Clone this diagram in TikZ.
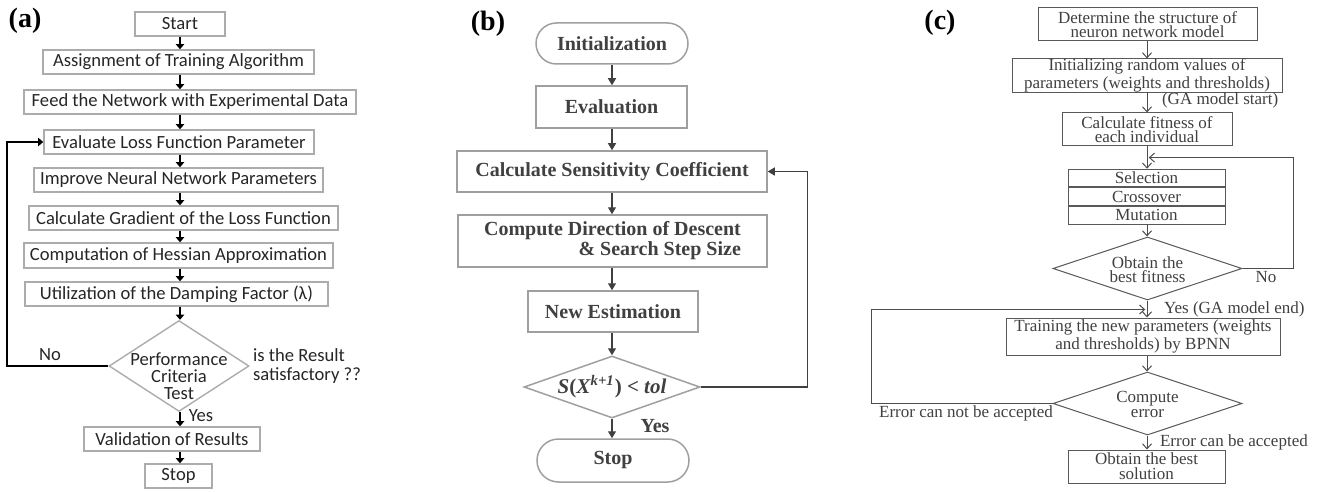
\documentclass[tikz,border=0pt]{standalone}
\usepackage{fontspec}
\setmainfont{Liberation Serif}
\newfontfamily\calfont{Carlito}
\usetikzlibrary{positioning,calc,shapes.geometric,shapes.misc,arrows.meta}

\tikzset{
  tag/.style={font=\bfseries\fontsize{14}{16}\selectfont},
  % panel (a)
  boxa/.style={draw=gray!65, line width=0.7pt, inner sep=0pt, minimum height=12pt,
    text=black!85, font=\calfont\fontsize{9.3}{11}\selectfont},
  txta/.style={text=black!85, font=\calfont\fontsize{9.3}{8.6}\selectfont},
  arra/.style={-{Triangle[length=2.6pt,width=4.2pt]}, line width=0.9pt},
  % panel (b)
  boxb/.style={draw=gray!75, line width=0.75pt, inner sep=0pt, align=right,
    text=black!75, font=\bfseries\fontsize{10}{8.5}\selectfont},
  txtb/.style={text=black!75, font=\bfseries\fontsize{10}{12}\selectfont},
  arrb/.style={-{Triangle[length=3.5pt,width=4pt]}, line width=0.6pt, draw=black!75},
  % panel (c)
  boxc/.style={draw=black!65, line width=0.5pt, inner sep=0pt, align=center,
    text=black!75, font=\fontsize{8.5}{7.4}\selectfont},
  txtc/.style={text=black!75, align=center, font=\fontsize{8.5}{7.2}\selectfont},
  arrc/.style={-{Straight Barb[length=2.5pt,width=4.5pt]}, line width=0.5pt, draw=black!70}
}

\begin{document}
\begin{tikzpicture}[x=0.5pt,y=-0.5pt]
\useasboundingbox (0,0) rectangle (1317,492);

% (a) Levenberg--Marquardt steps
\node[tag] (la) at (25,21) {(a)};
\node[boxa, minimum width=45pt] (a0) at (180,24) {Start};
\node[boxa, minimum width=135.5pt] (a1) at (178.5,62) {Assignment of Training Algorithm};
\node[boxa, minimum width=166pt] (a2) at (190,102) {Feed the Network with Experimental Data};
\node[boxa, minimum width=135pt] (a3) at (179,142) {Evaluate Loss Function Parameter};
\node[boxa, minimum width=144.5pt] (a4) at (178.5,180) {Improve Neural Network Parameters};
\node[boxa, minimum width=154.5pt] (a5) at (183.5,218) {Calculate Gradient of the Loss Function};
\node[boxa, minimum width=154.5pt, minimum height=12.5pt] (a6) at (178.5,255.5) {Computation of Hessian Approximation};
\node[boxa, minimum width=151.5pt] (a7) at (176.5,294) {Utilization of the Damping Factor (λ)};
\node[diamond, draw=gray!65, line width=0.7pt, inner sep=0pt, minimum width=70pt, minimum height=45.5pt,
  label={[txta, align=center, yshift=-5pt]center:{Performance\\Criteria\\Test}}] (a8) at (179,366) {};
\node[boxa, minimum width=88pt] (a9) at (172,439) {Validation of Results};
\node[boxa, minimum width=33.5pt] (a10) at (178.5,476) {Stop};
\foreach \u/\v in {a0/a1,a1/a2,a2/a3,a3/a4,a4/a5,a5/a6,a6/a7,a7/a8,a8/a9,a9/a10}
  \draw[arra] (a0.south |- \u.south) -- (a0.south |- \v.north);
\draw[arra] (a8.west) -- ++(-101,0) |- (a3.west);
\node[txta] (ano) at (50,355) {No};
\node[txta, align=left, anchor=west] (aq) at (246,366) {is the Result\\[0.5pt]satisfactory ??};
\node[txta] (ayes) at (201,416) {Yes};

% (b) sensitivity based search
\node[tag] (lb) at (488,24) {(b)};
\node[boxb, rounded rectangle, minimum width=76pt, minimum height=20.5pt] (b0) at (612,43.5) {Initialization};
\node[boxb, minimum width=75.5pt, minimum height=21pt] (b1) at (611.5,107) {Evaluation};
\node[boxb, minimum width=155pt, minimum height=20.5pt] (b2) at (612,171.5) {Calculate Sensitivity Coefficient};
\node[boxb, minimum width=154.5pt, minimum height=26pt] (b3) at (612.5,241) {Compute Direction of Descent\\\& Search Step Size};
\node[boxb, minimum width=85pt, minimum height=20.5pt] (b4) at (613,311.5) {New Estimation};
\node[diamond, draw=gray!75, line width=0.75pt, inner sep=0pt, minimum width=88pt, minimum height=31pt,
  label={[txtb, font=\bfseries\fontsize{10.5}{12}\selectfont]center:{\itshape S\/\upshape(\itshape X\/\textsuperscript{k+1}\upshape) < \itshape tol}}] (b5) at (612,387) {};
\node[boxb, rounded rectangle, minimum width=76pt, minimum height=21.5pt] (b6) at (613,460.5) {Stop};
\foreach \u/\v in {b0/b1,b1/b2,b2/b3,b3/b4,b4/b5,b5/b6}
  \draw[arrb] (b0.south |- \u.south) -- (b0.south |- \v.north);
\draw[arrb] (b5.east) -- ++(107,0) |- (b2.east);
\node[txtb] (byes) at (655,426) {Yes};

% (c) GA-BPNN
\node[tag] (lc) at (940,23) {(c)};
\node[boxc, minimum width=109.5pt, minimum height=16.5pt] (c0) at (1147.5,24.5) {Determine the structure of\\neuron network model};
\node[boxc, minimum width=135pt, minimum height=16.5pt] (c1) at (1147,75.5) {Initializing random values of\\parameters (weights and thresholds)};
\node[boxc, minimum width=85pt, minimum height=16.5pt] (c2) at (1147,129.5) {Calculate fitness of\\each individual};
\node[boxc, minimum width=78.5pt, minimum height=8.8pt] (c3) at (1146.5,178) {Selection};
\node[boxc, minimum width=78.5pt, minimum height=8.8pt, below=0pt of c3] (c4) {Crossover};
\node[boxc, minimum width=78.5pt, minimum height=8.8pt, below=0pt of c4] (c5) {Mutation};
\node[diamond, draw=black!65, line width=0.5pt, inner sep=0pt, minimum width=94.5pt, minimum height=31.5pt,
  label={[txtc, yshift=-0.5pt]center:{Obtain the\\best fitness}}] (c6) at (1147.5,268.5) {};
\node[boxc, minimum width=137pt, minimum height=18.5pt] (c7) at (1143,336.5) {Training the new parameters (weights\\and thresholds) by BPNN};
\node[diamond, draw=black!65, line width=0.5pt, inner sep=0pt, minimum width=94.5pt, minimum height=31.5pt,
  label={[txtc, yshift=-0.5pt]center:{Compute\\error}}] (c8) at (1147.5,403.5) {};
\node[boxc, minimum width=78.5pt, minimum height=16.5pt] (c9) at (1146.5,466.5) {Obtain the best\\solution};
\foreach \u/\v in {c0/c1,c1/c2,c2/c3,c5/c6,c6/c7,c7/c8,c8/c9}
  \draw[arrc] (c1.south |- \u.south) -- (c1.south |- \v.north);
\coordinate (back1) at ($(c2.south)!.5!(c3.north) + (2,0)$);
\coordinate (back2) at ($(c6.south)!.5!(c7.north |- c6.south) + (0,9)$);
\draw[arrc] (c6.east) -- ++(51,0) |- (back1);
\draw[arrc] (c8.west) -- ++(-181,0) |- (back2);
\node[txtc, anchor=west] (cstart) at (1155,100) {(GA model start)};
\node[txtc] (cno) at (1266,277) {No};
\node[txtc, anchor=west] (cend) at (1157,309) {Yes (GA model end)};
\node[txtc] (cnot) at (966,413) {Error can not be accepted};
\node[txtc, anchor=west] (cok) at (1153,442) {Error can be accepted};
\end{tikzpicture}
\end{document}
